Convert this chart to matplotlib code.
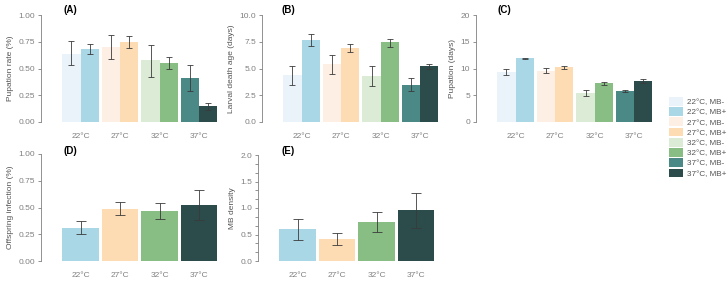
import numpy as np
import matplotlib
matplotlib.use("Agg")
import matplotlib.pyplot as plt
from matplotlib.patches import Patch
from matplotlib.ticker import MultipleLocator

plt.rcParams['font.family'] = ['Liberation Sans', 'DejaVu Sans']

# === DATA ===
temps = ['22°C', '27°C', '32°C', '37°C']
legend_labels = ['22°C, MB-', '22°C, MB+', '27°C, MB-', '27°C, MB+',
                 '32°C, MB-', '32°C, MB+', '37°C, MB-', '37°C, MB+']
colors_neg = ['#EAF3FA', '#FDEFE3', '#DCEBD5', '#4A8985']
colors_pos = ['#A9D7E5', '#FDDCB4', '#88BD84', '#2B4C4A']

# (A) pupation rate
pup_neg = [0.64, 0.70, 0.575, 0.41]
pup_neg_lo = [0.53, 0.59, 0.42, 0.29]
pup_neg_hi = [0.76, 0.81, 0.72, 0.53]
pup_pos = [0.685, 0.745, 0.55, 0.145]
pup_pos_lo = [0.64, 0.69, 0.50, 0.11]
pup_pos_hi = [0.73, 0.80, 0.61, 0.18]

# (B) larval death age
death_neg = [4.35, 5.4, 4.3, 3.5]
death_neg_lo = [3.5, 4.5, 3.35, 2.9]
death_neg_hi = [5.25, 6.3, 5.2, 4.1]
death_pos = [7.65, 6.9, 7.45, 5.2]
death_pos_lo = [7.1, 6.5, 7.05, 4.95]
death_pos_hi = [8.25, 7.3, 7.8, 5.45]

# (C) pupation days
pday_neg = [9.3, 9.6, 5.45, 5.75]
pday_neg_lo = [8.7, 9.1, 4.95, 5.55]
pday_neg_hi = [9.9, 10.1, 5.95, 5.95]
pday_pos = [11.9, 10.2, 7.2, 7.6]
pday_pos_lo = [11.8, 9.95, 6.95, 7.25]
pday_pos_hi = [12.0, 10.45, 7.45, 7.95]

# (D) offspring infection
inf = [0.31, 0.49, 0.465, 0.52]
inf_lo = [0.25, 0.43, 0.39, 0.38]
inf_hi = [0.37, 0.55, 0.54, 0.665]

# (E) MB density
mb = [0.60, 0.41, 0.73, 0.96]
mb_lo = [0.40, 0.30, 0.55, 0.63]
mb_hi = [0.80, 0.53, 0.92, 1.28]

W, H = 728, 283
fig = plt.figure(figsize=(W / 100, H / 100), dpi=100)
grey = '#808080'
fs = 6.0


def px_axes(left, top, right, bottom):
    return fig.add_axes([left / W, 1 - bottom / H, (right - left) / W, (bottom - top) / H])


def style(ax, ymax, step, ylabel, title, tl_left, tl_y):
    ax.set_xlim(0, 4.6)
    ax.set_ylim(0, ymax)
    ax.yaxis.set_major_locator(MultipleLocator(step))
    for s in ['top', 'right', 'bottom']:
        ax.spines[s].set_visible(False)
    ax.spines['left'].set_color(grey)
    ax.spines['left'].set_linewidth(0.6)
    ax.set_xticks(range(1, 5))
    ax.set_xticklabels(temps)
    ax.tick_params(axis='x', length=0, pad=8, labelsize=fs, labelcolor=grey)
    ax.tick_params(axis='y', length=2.2, width=0.6, color=grey, pad=2,
                   labelsize=fs, labelcolor=grey)
    ax.set_ylabel(ylabel, fontsize=6.0, color='#555555', labelpad=3)
    ax.patch.set_alpha(0)
    fig.text(tl_left / W, 1 - tl_y / H, title, fontsize=7, fontweight='bold',
             ha='left', va='center')


def paired(ax, neg, nlo, nhi, pos, plo, phi):
    x = np.arange(1, 5)
    w = 0.46
    ax.bar(x - w / 2, neg, w, color=colors_neg)
    ax.bar(x + w / 2, pos, w, color=colors_pos)
    ekw = dict(fmt='none', ecolor='#3a3a3a', elinewidth=0.6, capsize=1.9, capthick=0.6)
    ax.errorbar(x - w / 2, neg, yerr=[np.subtract(neg, nlo), np.subtract(nhi, neg)], **ekw)
    ax.errorbar(x + w / 2, pos, yerr=[np.subtract(pos, plo), np.subtract(phi, pos)], **ekw)


def single(ax, vals, lo, hi):
    x = np.arange(1, 5)
    ax.bar(x, vals, 0.92, color=colors_pos)
    ax.errorbar(x, vals, yerr=[np.subtract(vals, lo), np.subtract(hi, vals)],
                fmt='none', ecolor='#3a3a3a', elinewidth=0.6, capsize=3.6, capthick=0.6)


axA = px_axes(41, 15, 223, 122)
paired(axA, pup_neg, pup_neg_lo, pup_neg_hi, pup_pos, pup_pos_lo, pup_pos_hi)
style(axA, 1.0, 0.25, 'Pupation rate (%)', '(A)', 63, 10)
axA.yaxis.set_major_formatter(lambda v, p: f'{v:.2f}')

axB = px_axes(262, 15, 444, 122)
paired(axB, death_neg, death_neg_lo, death_neg_hi, death_pos, death_pos_lo, death_pos_hi)
style(axB, 10.0, 2.5, 'Larval death age (days)', '(B)', 282, 10)
axB.yaxis.set_major_formatter(lambda v, p: f'{v:.1f}')

axC = px_axes(476, 15, 658, 122)
paired(axC, pday_neg, pday_neg_lo, pday_neg_hi, pday_pos, pday_pos_lo, pday_pos_hi)
style(axC, 20, 5, 'Pupation (days)', '(C)', 497, 10)
axC.yaxis.set_major_formatter(lambda v, p: f'{v:.0f}')

axD = px_axes(41, 154, 223, 261)
single(axD, inf, inf_lo, inf_hi)
style(axD, 1.0, 0.25, 'Offspring infection (%)', '(D)', 63, 151)
axD.yaxis.set_major_formatter(lambda v, p: f'{v:.2f}')

axE = px_axes(258, 155, 440, 261)
single(axE, mb, mb_lo, mb_hi)
style(axE, 2.0, 0.5, 'MB density', '(E)', 281, 151)
axE.yaxis.set_major_formatter(lambda v, p: f'{v:.1f}')
axE.yaxis.set_minor_locator(MultipleLocator(0.5 / 3))
axE.tick_params(axis='y', which='minor', length=2.2, width=0.6, color=grey)

# legend
handles = []
for cn, cp, lab_n, lab_p in zip(colors_neg, colors_pos, legend_labels[0::2], legend_labels[1::2]):
    handles.append(Patch(facecolor=cn, edgecolor='none', label=lab_n))
    handles.append(Patch(facecolor=cp, edgecolor='none', label=lab_p))
leg = fig.legend(handles=handles, loc='upper left', bbox_to_anchor=(669 / W, 1 - 97 / H),
                 frameon=False, fontsize=5.9, handlelength=1.65, handleheight=1.25,
                 labelspacing=0.14, handletextpad=0.5, borderpad=0, borderaxespad=0)
for t in leg.get_texts():
    t.set_color('#555555')

fig.savefig('out.png', dpi=100)
